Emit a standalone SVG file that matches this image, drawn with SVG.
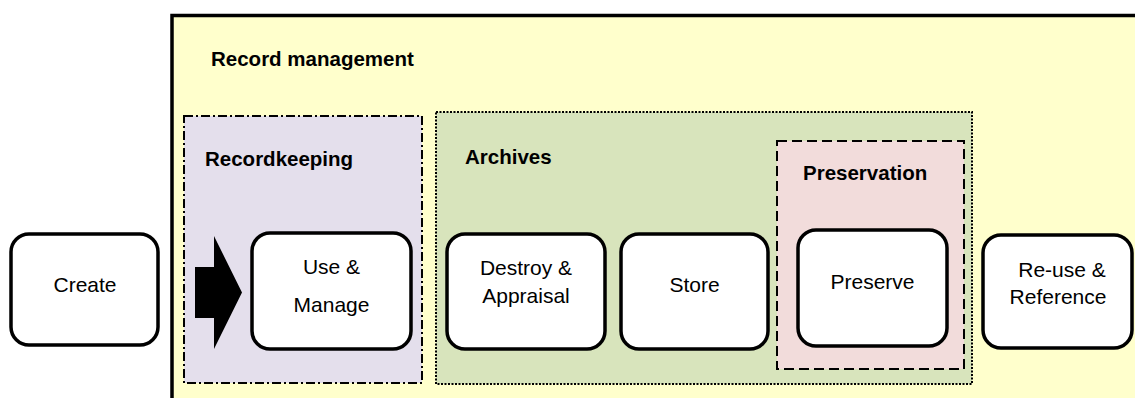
<svg xmlns="http://www.w3.org/2000/svg" width="1135" height="398" viewBox="0 0 1135 398">
<style>
.node rect{fill:#fff;stroke:#000;stroke-width:3.5}
.lbl{font-family:"Liberation Sans",Arial,sans-serif;font-size:21px;fill:#000;text-anchor:middle}
.title{font-family:"Liberation Sans",Arial,sans-serif;font-size:20.5px;font-weight:bold;fill:#000}
</style>
<rect width="1135" height="398" fill="#fff"/>
<g id="record-management">
<rect x="172" y="15.5" width="1000" height="500" fill="#FFFFCC" stroke="#000" stroke-width="3.5"/>
<text class="title" x="211" y="65.5">Record management</text>
</g>
<g id="recordkeeping">
<rect x="184" y="116" width="238" height="267" fill="#E4DFEC" stroke="#000" stroke-width="2" stroke-dasharray="9,3,2,3"/>
<text class="title" x="205" y="165.5">Recordkeeping</text>
</g>
<g id="archives">
<rect x="436" y="112" width="536" height="272" fill="#D8E4BC" stroke="#000" stroke-width="2" stroke-dasharray="2,1.5"/>
<text class="title" x="465" y="164">Archives</text>
</g>
<g id="preservation">
<rect x="777" y="141" width="187" height="228" fill="#F2DCDB" stroke="#000" stroke-width="2" stroke-dasharray="10,5"/>
<text class="title" x="803" y="180">Preservation</text>
</g>
<g id="connectors">
<polygon points="195,267 214,267 214,236 242,292.5 214,349 214,318 195,318" fill="#000"/>
</g>
<g id="create" class="node">
<rect x="11" y="234" width="147" height="111" rx="18"/>
<text class="lbl" x="85" y="292">Create</text>
</g>
<g id="use-manage" class="node">
<rect x="252" y="233" width="159" height="116" rx="18"/>
<text class="lbl" x="331.5" y="274">Use &amp;</text>
<text class="lbl" x="331.5" y="311.5">Manage</text>
</g>
<g id="destroy-appraisal" class="node">
<rect x="447" y="234" width="158" height="115" rx="18"/>
<text class="lbl" x="526" y="275">Destroy &amp;</text>
<text class="lbl" x="526" y="303">Appraisal</text>
</g>
<g id="store" class="node">
<rect x="621" y="234" width="147" height="115" rx="18"/>
<text class="lbl" x="694.5" y="292">Store</text>
</g>
<g id="preserve" class="node">
<rect x="798" y="230" width="149" height="116" rx="18"/>
<text class="lbl" x="872.5" y="289">Preserve</text>
</g>
<g id="reuse-reference" class="node">
<rect x="983" y="235" width="149" height="113" rx="18"/>
<text class="lbl" x="1062" y="277">Re-use &amp;</text>
<text class="lbl" x="1058" y="304">Reference</text>
</g>
</svg>
